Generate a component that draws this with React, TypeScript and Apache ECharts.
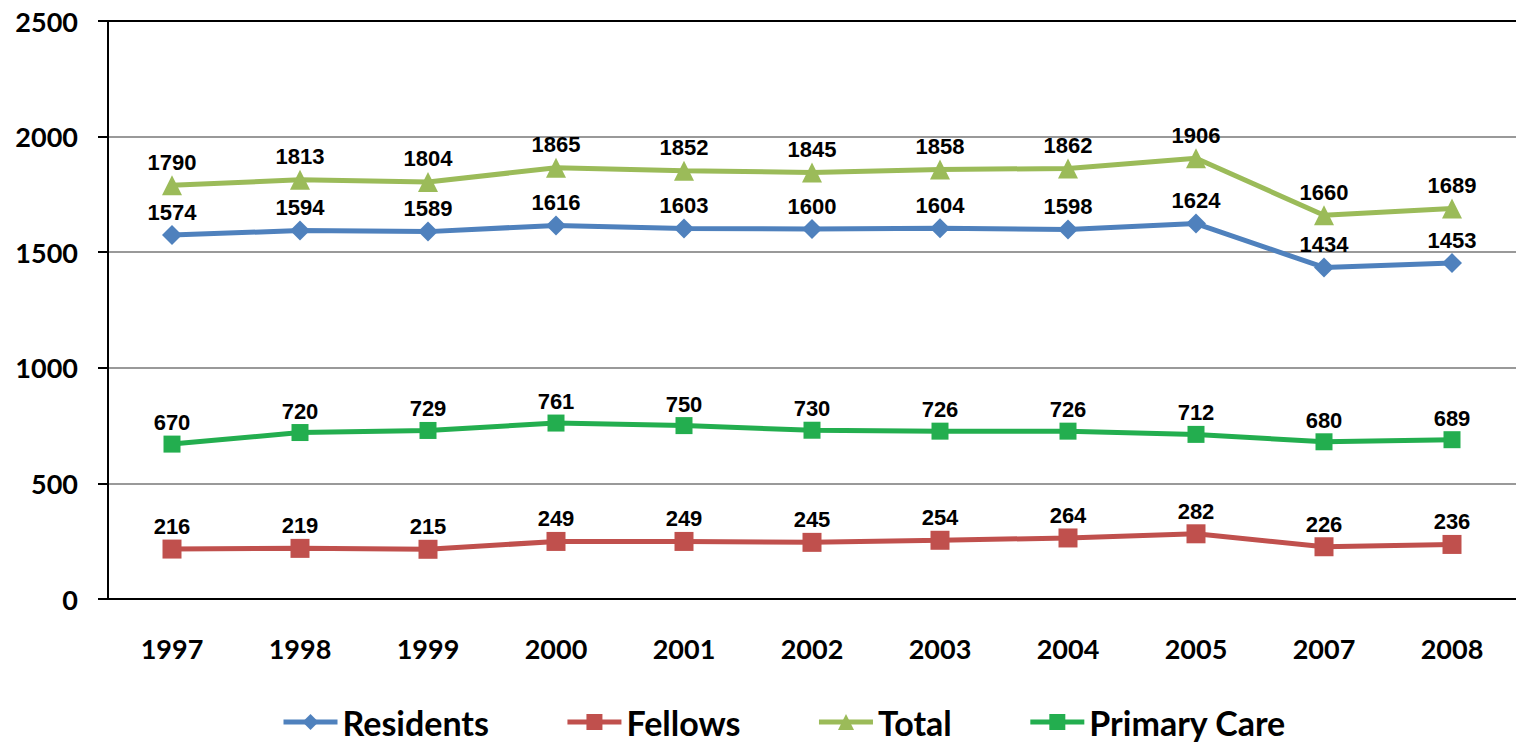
import React, { useEffect, useRef } from "react";
import * as echarts from "echarts";

const years = ["1997", "1998", "1999", "2000", "2001", "2002", "2003", "2004", "2005", "2007", "2008"];
const residents = [1574, 1594, 1589, 1616, 1603, 1600, 1604, 1598, 1624, 1434, 1453];
const fellows = [216, 219, 215, 249, 249, 245, 254, 264, 282, 226, 236];
const total = [1790, 1813, 1804, 1865, 1852, 1845, 1858, 1862, 1906, 1660, 1689];
const primaryCare = [670, 720, 729, 761, 750, 730, 726, 726, 712, 680, 689];

const labelFont = "'Liberation Sans', Arial, sans-serif";
const axisFont = "Lato, 'Open Sans', sans-serif";

function mkSeries(name: string, data: number[], color: string, symbol: string, size: number) {
  return {
    name,
    type: "line",
    data,
    symbol,
    symbolSize: size,
    showAllSymbol: true,
    lineStyle: { color, width: 5 },
    itemStyle: { color },
    label: {
      show: true,
      position: "top",
      distance: 2,
      color: "#000",
      fontFamily: labelFont,
      fontWeight: "bold",
      fontSize: 22,
    },
  };
}

export default function App() {
  const ref = useRef<HTMLDivElement>(null);
  useEffect(() => {
    const chart = echarts.init(ref.current!, null, { renderer: "svg" });
    chart.setOption({
      animation: false,
      backgroundColor: "#fff",
      grid: { left: 108, top: 21, width: 1411, bottom: 152 },
      legend: {
        bottom: 7,
        left: 276,
        itemWidth: 54,
        itemHeight: 20,
        itemGap: 76,
        lineStyle: { width: 5 },
        textStyle: { fontFamily: axisFont, fontWeight: "bold", fontSize: 34, color: "#000" },
        data: ["Residents", "Fellows", "Total", "Primary Care"],
      },
      xAxis: {
        type: "category",
        data: years,
        boundaryGap: true,
        axisLine: { lineStyle: { color: "#000", width: 2 } },
        axisTick: { show: false },
        axisLabel: { margin: 36, fontFamily: axisFont, fontWeight: "bold", fontSize: 27, color: "#000" },
      },
      yAxis: {
        type: "value",
        min: 0,
        max: 2500,
        interval: 500,
        axisLine: { show: true, lineStyle: { color: "#000", width: 2 } },
        axisTick: { show: true, length: 10, lineStyle: { color: "#000", width: 2 } },
        axisLabel: {
          margin: 30,
          fontFamily: axisFont,
          fontWeight: "bold",
          fontSize: 27,
          color: "#000",
          formatter: (v: number) => String(v),
        },
        splitLine: {
          show: true,
          lineStyle: { color: ["#999", "#999", "#999", "#999", "#999", "#000"], width: 2 },
        },
      },
      series: [
        mkSeries("Residents", residents, "#4F81BD", "diamond", 20),
        mkSeries("Fellows", fellows, "#C0504D", "rect", 19),
        mkSeries("Total", total, "#9BBB59", "triangle", 20),
        mkSeries("Primary Care", primaryCare, "#23AE4F", "rect", 17),
      ],
    });
    return () => chart.dispose();
  }, []);
  return (
    <div
      ref={ref}
      style={{ position: "fixed", left: 0, top: 0, width: 1516, height: 751 }}
    />
  );
}
